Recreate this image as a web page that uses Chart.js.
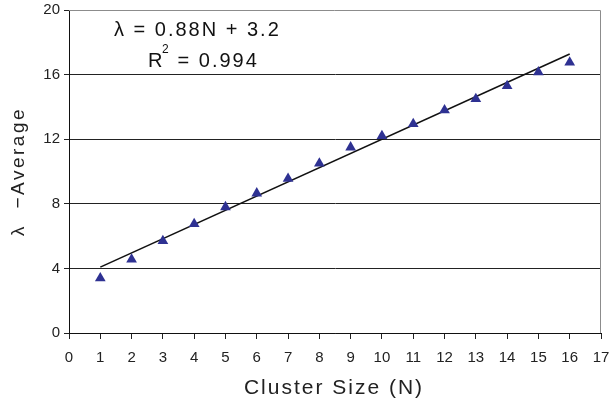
<!DOCTYPE html>
<html>
<head>
<meta charset="utf-8">
<script src="https://cdn.jsdelivr.net/npm/chart.js@4/dist/chart.umd.min.js"></script>
<style>
  html, body { margin: 0; padding: 0; background: #fff; }
  #wrap { width: 610px; height: 407px; }
</style>
</head>
<body>
<div id="wrap"><canvas id="chart" width="610" height="407"></canvas></div>
<script>
// cluster size N and the average lambda
const clusterSize = [1, 2, 3, 4, 5, 6, 7, 8, 9, 10, 11, 12, 13, 14, 15, 16];
const lambdaAvg = [3.4, 4.55, 5.7, 6.75, 7.8, 8.65, 9.55, 10.5, 11.5, 12.2, 12.95, 13.8, 14.5, 15.3, 16.15, 16.75];

// trend line end points
const trendX = [1, 16];
const trendY = [4.08, 17.28];

const xTitle = 'Cluster Size (N)';
const yTitle = 'λ  −Average';
const eqText = 'λ = 0.88N + 3.2';
const r2Text = ' = 0.994';

const FONT = 'Arial, "Liberation Sans", sans-serif';

// gray frame, titles with letter spacing, regression text
const extras = {
    id: 'extras',
    beforeDatasetsDraw(chart) {
        const { ctx, chartArea: a } = chart;
        ctx.save();
        ctx.strokeStyle = '#8c8c8c';
        ctx.lineWidth = 1;
        ctx.beginPath();
        ctx.moveTo(a.left, a.top + 0.5);
        ctx.lineTo(a.right - 0.5, a.top + 0.5);
        ctx.lineTo(a.right - 0.5, a.bottom);
        ctx.stroke();
        ctx.restore();
    },
    afterDraw(chart) {
        const { ctx, chartArea: a } = chart;
        ctx.save();
        ctx.fillStyle = '#222';
        ctx.textBaseline = 'middle';

        // x title
        ctx.letterSpacing = '2px';
        ctx.font = '21px ' + FONT;
        ctx.textAlign = 'center';
        ctx.fillText(xTitle, (a.left + a.right) / 2 - 1, 388);

        // y title
        ctx.save();
        ctx.translate(19, (a.top + a.bottom) / 2);
        ctx.rotate(-Math.PI / 2);
        ctx.letterSpacing = '2.5px';
        ctx.font = '19px ' + FONT;
        ctx.fillText(yTitle, 0, 0);
        ctx.restore();

        // regression text
        ctx.fillStyle = '#111';
        ctx.letterSpacing = '2px';
        ctx.font = '20px ' + FONT;
        ctx.textAlign = 'left';
        ctx.fillText(eqText, 114, 30);
        ctx.fillText('R', 148, 61);
        ctx.font = '12px ' + FONT;
        ctx.fillText('2', 162, 50);
        ctx.font = '20px ' + FONT;
        ctx.fillText(r2Text, 170, 61);
        ctx.restore();
    }
};

new Chart(document.getElementById('chart'), {
    type: 'scatter',
    data: {
        datasets: [
            {
                label: 'λ average',
                data: clusterSize.map((n, i) => ({ x: n, y: lambdaAvg[i] })),
                pointStyle: 'triangle',
                pointRadius: 6.2,
                pointHoverRadius: 6.2,
                backgroundColor: '#2e3192',
                borderColor: '#2e3192',
                borderWidth: 0,
                order: 1
            },
            {
                label: 'trend',
                type: 'line',
                data: trendX.map((n, i) => ({ x: n, y: trendY[i] })),
                borderColor: '#111',
                borderWidth: 1.6,
                pointRadius: 0,
                fill: false,
                order: 2
            }
        ]
    },
    options: {
        responsive: false,
        animation: false,
        layout: { padding: 0 },
        plugins: { legend: { display: false }, tooltip: { enabled: false } },
        scales: {
            x: {
                type: 'linear',
                min: 0,
                max: 17,
                afterFit(s) {
                    s.height = 74;
                    s.paddingLeft = 0;
                    s.paddingRight = 9;
                },
                ticks: {
                    stepSize: 1,
                    color: '#222',
                    font: { family: FONT, size: 15 },
                    padding: 10,
                    maxRotation: 0,
                    autoSkip: false
                },
                grid: {
                    drawOnChartArea: false,
                    drawTicks: true,
                    tickLength: 6,
                    color: '#222'
                },
                border: { color: '#111', width: 1 }
            },
            y: {
                min: 0,
                max: 20,
                afterFit(s) {
                    s.width = 69;
                    s.paddingTop = 10;
                    s.paddingBottom = 0;
                },
                ticks: {
                    stepSize: 4,
                    color: '#222',
                    font: { family: FONT, size: 15 },
                    padding: 4
                },
                grid: {
                    color: ctx => (ctx.tick && ctx.tick.value === 20) ? 'rgba(0,0,0,0)' : '#222',
                    tickColor: '#222',
                    tickLength: 5,
                    lineWidth: 1
                },
                border: { color: '#111', width: 1 }
            }
        }
    },
    plugins: [extras]
});
</script>
</body>
</html>
